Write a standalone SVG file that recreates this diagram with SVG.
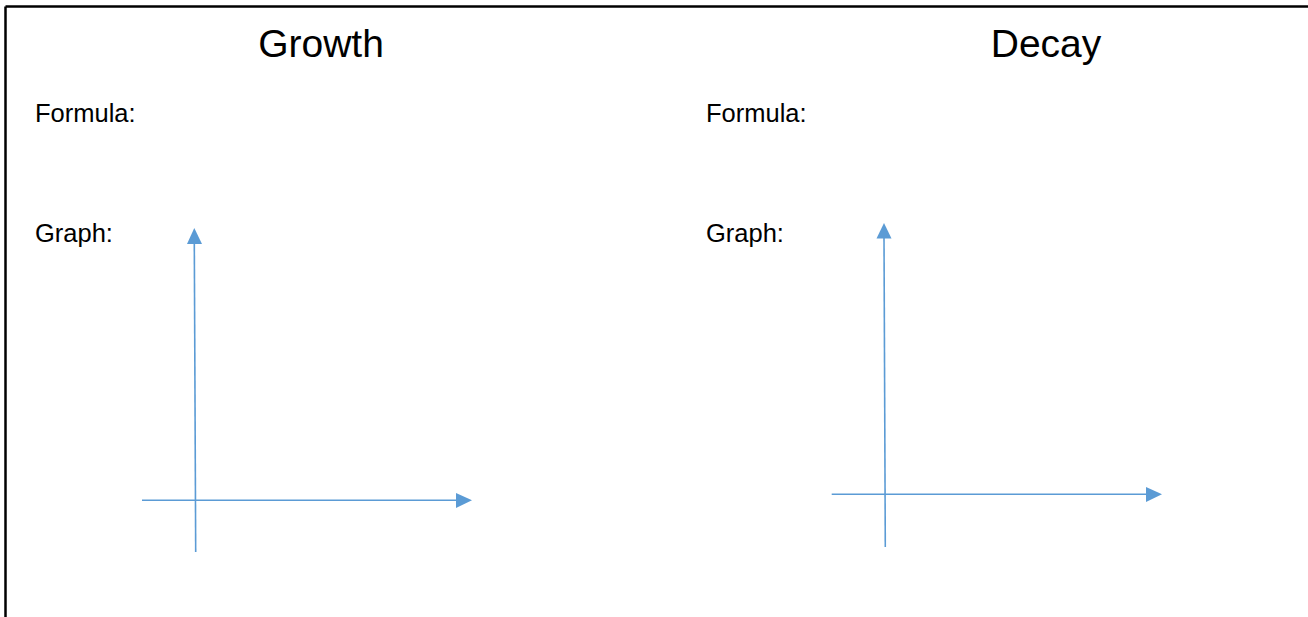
<svg xmlns="http://www.w3.org/2000/svg" width="1308" height="617" viewBox="0 0 1308 617">
<style>
text{font-family:"Liberation Sans",Arial,sans-serif;fill:#000}
.t{font-size:39px;text-anchor:middle}
.l{font-size:25.5px}
.ax{stroke:#5B9BD5;stroke-width:1.6;fill:none}
.ah{fill:#5B9BD5}
</style>
<rect width="1308" height="617" fill="#fff"/>
<g id="border">
<line x1="5.5" y1="6.5" x2="1308" y2="6.5" stroke="#000" stroke-width="2.5"/>
<line x1="5.5" y1="6.5" x2="5.5" y2="617" stroke="#000" stroke-width="2.5"/>
</g>
<g id="growth">
<text class="t" x="321" y="57">Growth</text>
<text class="l" x="35" y="122">Formula:</text>
<text class="l" x="35" y="242">Graph:</text>
</g>
<g id="decay">
<text class="t" x="1046" y="57">Decay</text>
<text class="l" x="706" y="122">Formula:</text>
<text class="l" x="706" y="242">Graph:</text>
</g>
<g id="connectors">
<line class="ax" x1="194.3" y1="243" x2="195.7" y2="552"/>
<polygon class="ah" points="194.3,228 187,244 202,244"/>
<line class="ax" x1="142" y1="500.3" x2="457" y2="500.3"/>
<polygon class="ah" points="472,500.3 456,493 456,508"/>
<line class="ax" x1="884" y1="237" x2="885.3" y2="547"/>
<polygon class="ah" points="884,223 876.5,238.5 891.5,238.5"/>
<line class="ax" x1="831.7" y1="494.3" x2="1147" y2="494.3"/>
<polygon class="ah" points="1162,494.3 1146,487 1146,502"/>
</g>
</svg>
